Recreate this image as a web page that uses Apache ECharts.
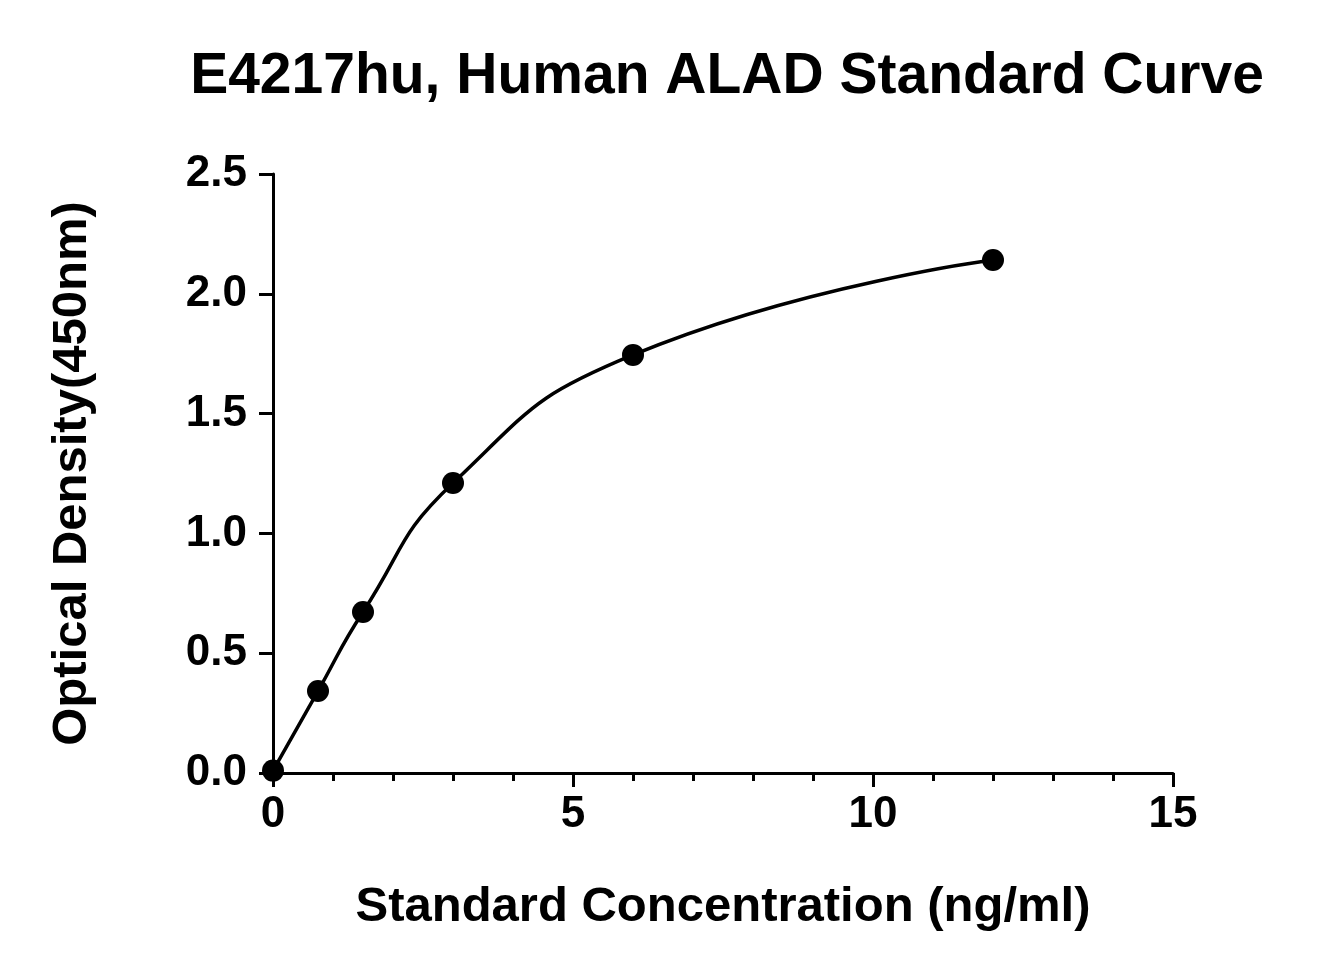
<!DOCTYPE html>
<html lang="en">
<head>
<meta charset="UTF-8">
<title>E4217hu Standard Curve</title>
<script src="https://cdn.jsdelivr.net/npm/echarts@6/dist/echarts.min.js"></script>
<style>
  body { margin: 0; background: #fff; }
  #chart { width: 1332px; height: 975px; }
</style>
</head>
<body>
<div id="chart"></div>
<script>
// standard concentrations (ng/ml) and measured OD at 450nm
const concentrations = [0, 0.75, 1.5, 3, 6, 12];
const densities = [0.01, 0.342, 0.672, 1.21, 1.745, 2.141];

const points = concentrations.map((c, i) => [c, densities[i]]);
const font = 'Arial, "Liberation Sans", sans-serif';

const chart = echarts.init(document.getElementById('chart'));
chart.setOption({
    backgroundColor: '#fff',
    animation: false,
    title: {
        text: 'E4217hu, Human ALAD Standard Curve',
        left: 722, top: 44, textAlign: 'center',
        textStyle: { fontFamily: font, fontSize: 57, fontWeight: 'bold', color: '#000' }
    },
    grid: { left: 273, right: 159, top: 174, bottom: 202 },
    xAxis: {
        type: 'value', min: 0, max: 15, interval: 5,
        name: 'Standard Concentration (ng/ml)',
        nameLocation: 'middle', nameGap: 110,
        nameTextStyle: { fontFamily: font, fontSize: 49, fontWeight: 'bold', color: '#000' },
        axisLine: { lineStyle: { color: '#000', width: 3 } },
        axisTick: { inside: false, length: 14, lineStyle: { width: 3, color: '#000' } },
        minorTick: { show: true, splitNumber: 5, length: 8, lineStyle: { width: 3, color: '#000' } },
        axisLabel: { fontFamily: font, fontSize: 44, fontWeight: 'bold', color: '#000', margin: 20 },
        splitLine: { show: false }
    },
    yAxis: {
        type: 'value', min: 0, max: 2.5, interval: 0.5,
        name: 'Optical Density(450nm)',
        nameLocation: 'middle', nameGap: 176,
        nameTextStyle: { fontFamily: font, fontSize: 49, fontWeight: 'bold', color: '#000' },
        axisLine: { show: true, lineStyle: { color: '#000', width: 3 } },
        axisTick: { show: true, length: 14, lineStyle: { width: 3, color: '#000' } },
        axisLabel: { fontFamily: font, fontSize: 44, fontWeight: 'bold', color: '#000', margin: 26,
                     formatter: v => v.toFixed(1) },
        splitLine: { show: false }
    },
    series: [{
        type: 'line',
        data: points,
        smooth: 0.5,
        symbol: 'circle',
        symbolSize: 22,
        itemStyle: { color: '#000' },
        lineStyle: { color: '#000', width: 3.5 }
    }]
});
</script>
</body>
</html>
